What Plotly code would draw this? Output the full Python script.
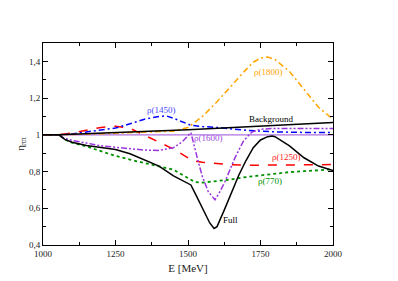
import plotly.graph_objects as go

# Energies (MeV) for each curve
E_full = [1000, 1055, 1075, 1100, 1150, 1200, 1250, 1300, 1350, 1400, 1450, 1500, 1510, 1525, 1550, 1575, 1590,
          1600, 1625, 1650, 1675, 1700, 1725, 1750, 1775, 1790, 1800, 1850, 1900, 1950, 2000]
full = [1.0, 1.0, 0.975, 0.96, 0.942, 0.932, 0.92, 0.897, 0.864, 0.83, 0.776, 0.735, 0.727, 0.68, 0.6, 0.52, 0.49,
        0.5, 0.59, 0.69, 0.78, 0.86, 0.93, 0.972, 0.99, 0.993, 0.99, 0.94, 0.875, 0.83, 0.805]

E_bg = [1000, 1055, 1500, 2000]
background = [1.0, 1.0, 1.028, 1.067]

E_770 = [1000, 1055, 1075, 1100, 1150, 1200, 1250, 1300, 1350, 1400, 1450, 1500, 1525, 1550, 1600, 1650, 1700,
         1750, 1800, 1850, 1900, 1950, 2000]
rho770 = [1.0, 1.0, 0.975, 0.957, 0.937, 0.91, 0.885, 0.865, 0.845, 0.828, 0.81, 0.765, 0.742, 0.74, 0.747, 0.757,
          0.77, 0.78, 0.79, 0.797, 0.802, 0.807, 0.812]

E_1250 = [1000, 1055, 1100, 1150, 1200, 1250, 1300, 1350, 1400, 1450, 1500, 1510, 1550, 1600, 1650, 1700, 1800,
          1900, 2000]
rho1250 = [1.0, 1.0, 1.01, 1.025, 1.04, 1.047, 1.035, 0.998, 0.96, 0.922, 0.875, 0.862, 0.85, 0.842, 0.837, 0.834,
           0.834, 0.836, 0.838]

E_1450 = [1000, 1055, 1100, 1150, 1200, 1250, 1300, 1350, 1400, 1425, 1450, 1500, 1510, 1550, 1600, 1700, 1800,
          1900, 2000]
rho1450 = [1.0, 1.0, 1.005, 1.015, 1.025, 1.037, 1.06, 1.085, 1.1, 1.103, 1.09, 1.058, 1.052, 1.045, 1.04, 1.025,
           1.016, 1.013, 1.012]

E_1600 = [1000, 1055, 1075, 1100, 1150, 1200, 1250, 1300, 1350, 1400, 1450, 1480, 1510, 1535, 1550, 1570, 1593,
          1610, 1628, 1662, 1691, 1720, 1750, 1800, 2000]
rho1600 = [1.0, 1.0, 0.98, 0.97, 0.955, 0.94, 0.932, 0.925, 0.917, 0.915, 0.93, 0.962, 1.012, 0.856, 0.77, 0.69,
           0.646, 0.69, 0.747, 0.875, 0.966, 1.015, 1.03, 1.035, 1.035]

E_1800 = [1000, 1055, 1100, 1200, 1300, 1400, 1450, 1500, 1550, 1600, 1650, 1700, 1725, 1750, 1775, 1800, 1850,
          1900, 1950, 2000]
rho1800 = [1.0, 1.0, 1.002, 1.006, 1.01, 1.014, 1.02, 1.04, 1.1, 1.18, 1.27, 1.355, 1.395, 1.418, 1.423, 1.41, 1.345,
           1.25, 1.15, 1.085]

E_ref = [1000, 2000]
ref = [1.0, 1.0]

labels = [
    ("ρ(1450)", 1407, 1.134, "#4a4aff"),
    ("ρ(1800)", 1776, 1.342, "#ffa500"),
    ("Background", 1785, 1.085, "black"),
    ("ρ(1600)", 1572, 0.98, "#9a4adf"),
    ("ρ(1250)", 1838, 0.877, "#ff2020"),
    ("ρ(770)", 1783, 0.75, "#009000"),
    ("Full", 1645, 0.537, "black"),
]

FONT = "Liberation Serif, Times New Roman, serif"

fig = go.Figure()
fig.add_trace(go.Scatter(x=E_ref, y=ref, mode="lines", line=dict(color="#b070e0", width=1.2)))
fig.add_trace(go.Scatter(x=E_770, y=rho770, mode="lines", line=dict(color="#009000", width=1.8, dash="dot")))
fig.add_trace(go.Scatter(x=E_1250, y=rho1250, mode="lines", line=dict(color="#ff0000", width=1.5, dash="dash")))
fig.add_trace(go.Scatter(x=E_1450, y=rho1450, mode="lines",
                         line=dict(color="#0000ff", width=1.5, dash="6px,3px,2px,3px")))
fig.add_trace(go.Scatter(x=E_1600, y=rho1600, mode="lines",
                         line=dict(color="#9933dd", width=1.5, dash="6px,2px,2px,2px,2px,2px")))
fig.add_trace(go.Scatter(x=E_1800, y=rho1800, mode="lines",
                         line=dict(color="#ffa500", width=1.5, dash="6px,3px,2px,3px")))
fig.add_trace(go.Scatter(x=E_bg, y=background, mode="lines", line=dict(color="black", width=1.5)))
fig.add_trace(go.Scatter(x=E_full, y=full, mode="lines", line=dict(color="black", width=1.5)))

for txt, x, y, c in labels:
    fig.add_annotation(x=x, y=y, text=txt, showarrow=False, font=dict(family=FONT, size=9, color=c))

axis_common = dict(showline=True, linecolor="black", linewidth=1, mirror="allticks", ticks="inside",
                   ticklen=5, tickcolor="black", showgrid=False, zeroline=False, automargin=False,
                   tickfont=dict(family=FONT, size=9, color="#222"))

fig.update_xaxes(range=[1000, 2000], tickvals=[1000, 1250, 1500, 1750, 2000],
                 ticktext=["1000", "1250", "1500", "1750", "2000"],
                 minor=dict(tickvals=[1125, 1375, 1625, 1875], ticklen=3, ticks="inside", tickcolor="black"),
                 title=dict(text="E [MeV]", font=dict(family=FONT, size=11, color="#222"), standoff=6),
                 **axis_common)
fig.update_yaxes(range=[0.4, 1.5], tickvals=[0.4, 0.6, 0.8, 1.0, 1.2, 1.4],
                 ticktext=["0,4", "0,6", "0,8", "1", "1,2", "1,4"],
                 minor=dict(tickvals=[0.5, 0.7, 0.9, 1.1, 1.3], ticklen=3, ticks="inside", tickcolor="black"),
                 title=dict(text="η<sub>ππ</sub>", font=dict(family=FONT, size=11, color="#222"), standoff=2),
                 **axis_common)

fig.update_layout(width=398, height=281, margin=dict(l=43, r=65, t=43, b=36),
                  plot_bgcolor="white", paper_bgcolor="white", showlegend=False)

fig.write_html("out.html", config={"displayModeBar": False},
               post_script="document.body.style.margin='0';document.body.style.overflow='hidden';")
